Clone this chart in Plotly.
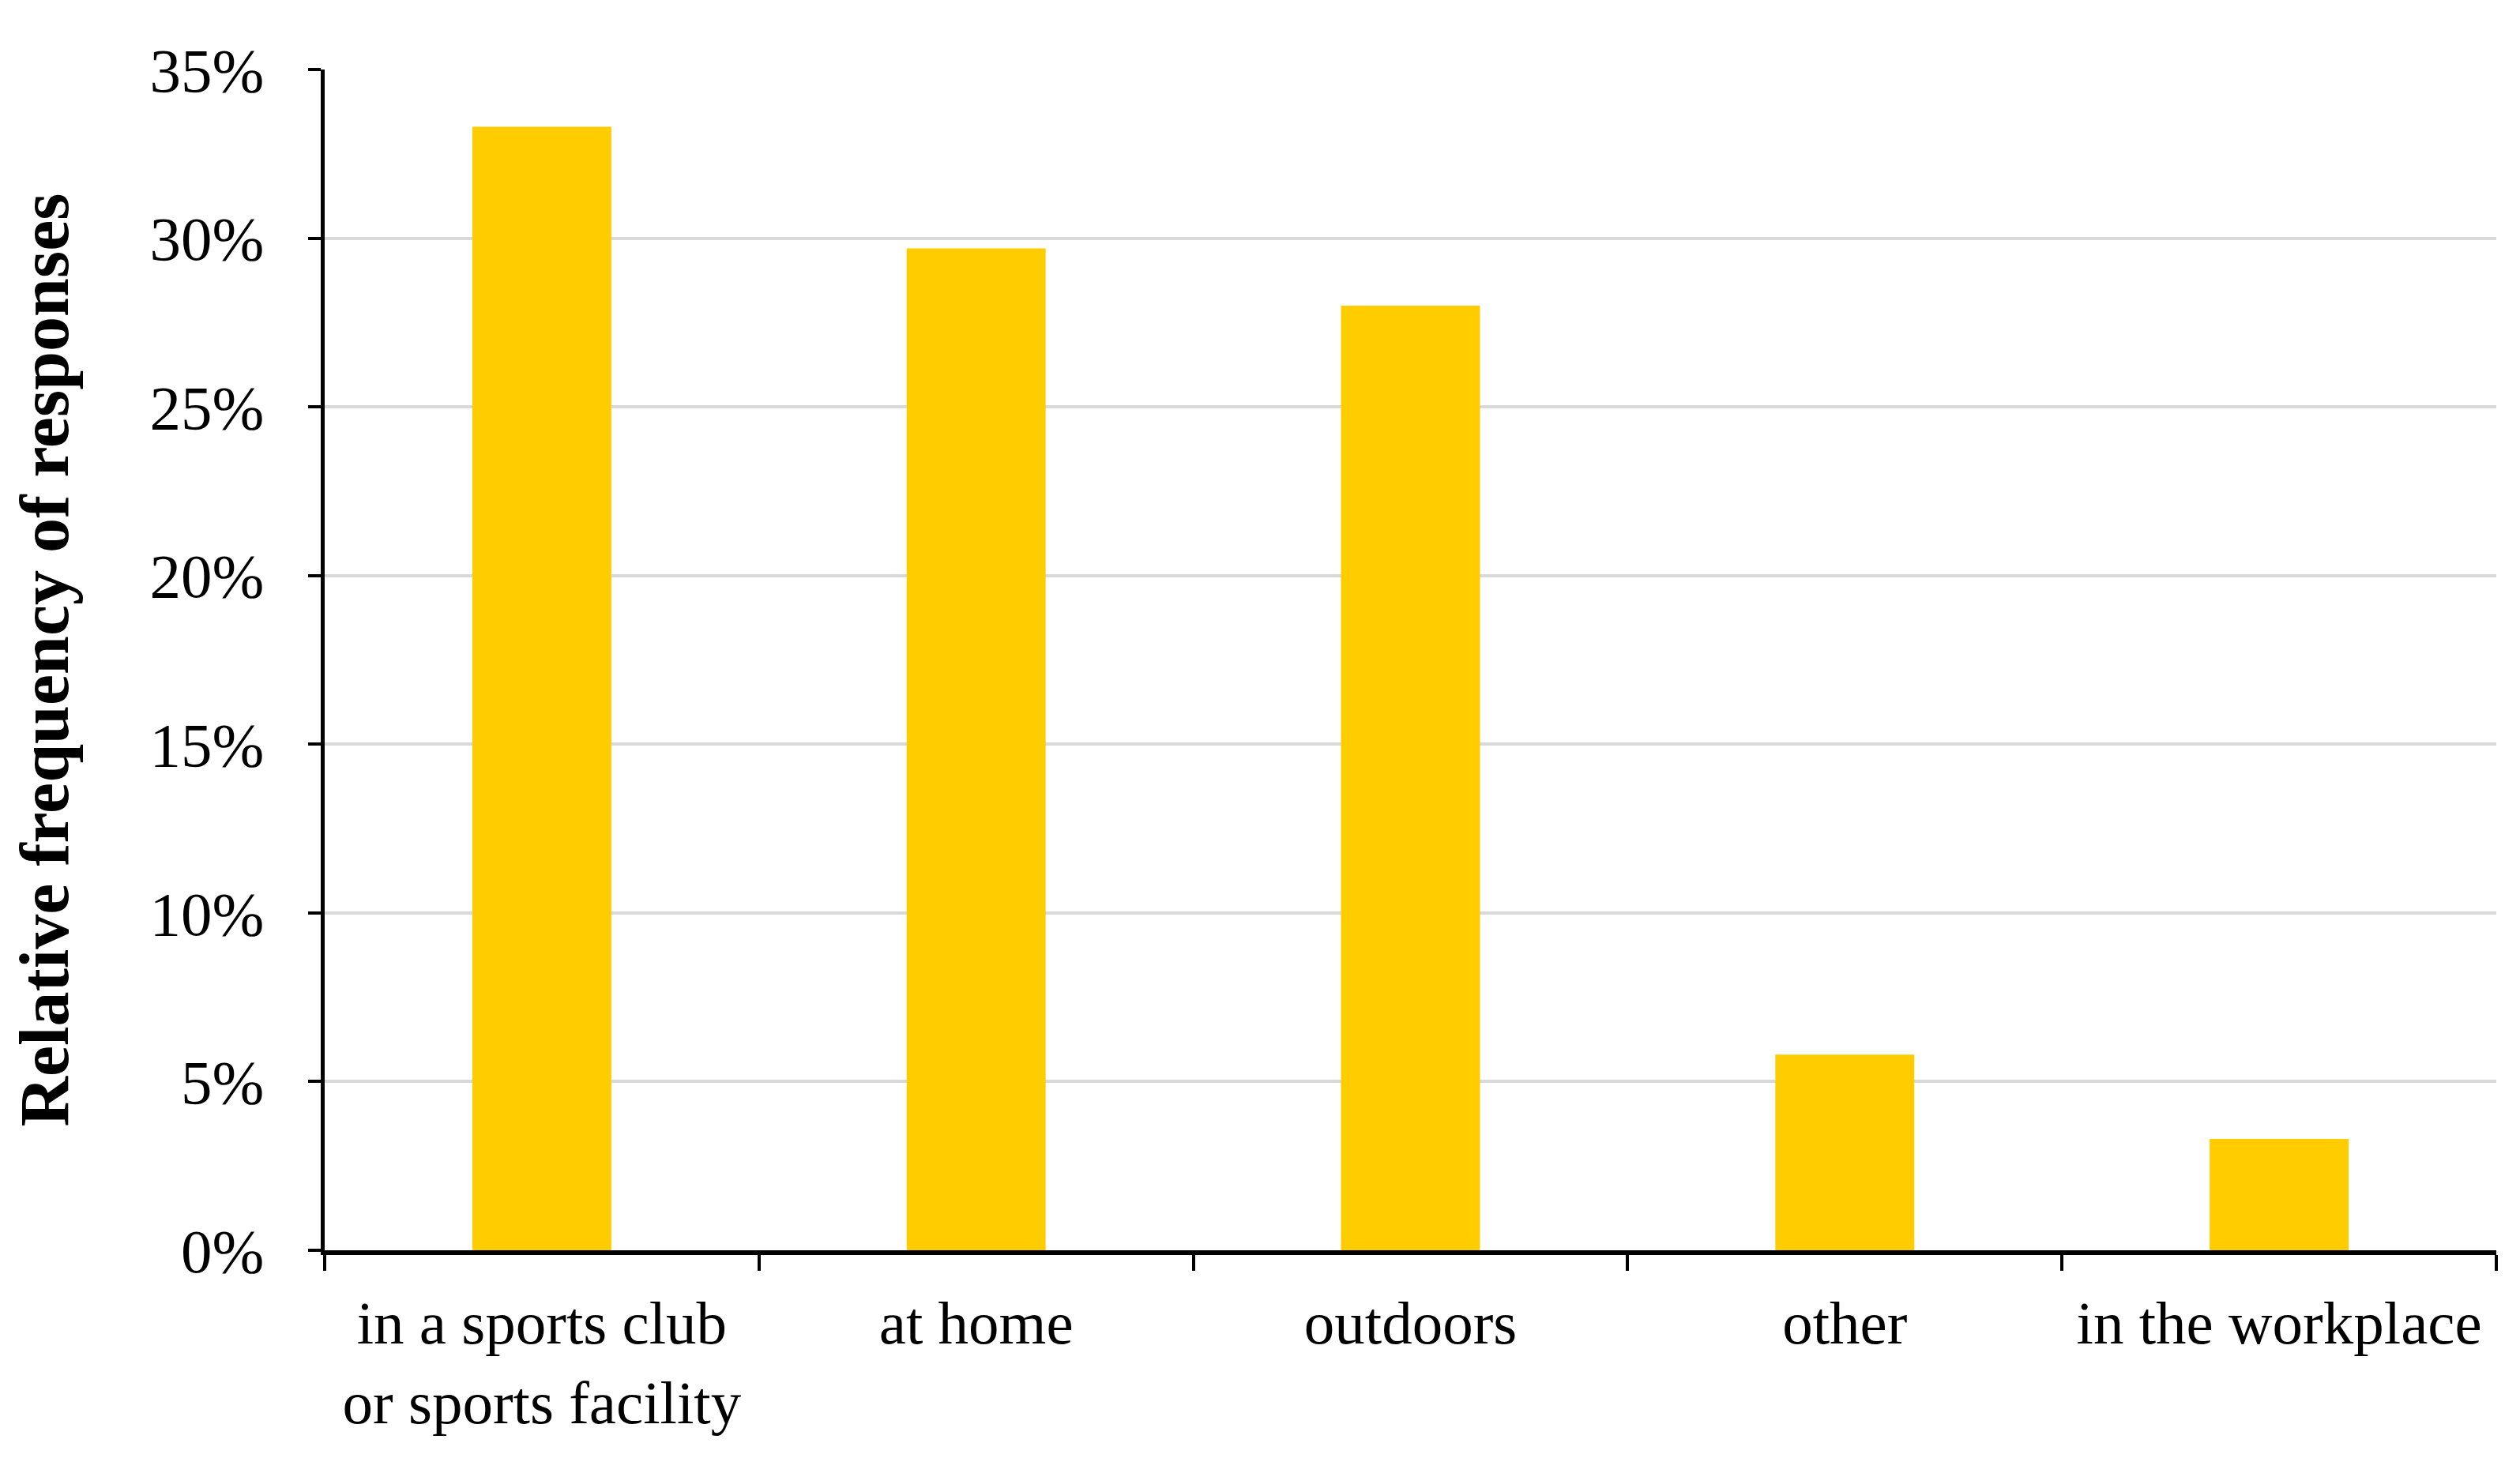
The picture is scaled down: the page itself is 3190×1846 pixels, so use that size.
import plotly.graph_objects as go

categories = ["in a sports club<br>or sports facility", "at home", "outdoors", "other", "in the workplace"]
values = [33.3, 29.7, 28.0, 5.8, 3.3]
y_ticks = [0, 5, 10, 15, 20, 25, 30, 35]
y_tick_labels = [f"{v}%" for v in y_ticks]

FONT = "Liberation Serif, Times New Roman, serif"

fig = go.Figure(
    go.Bar(
        x=categories,
        y=values,
        marker=dict(color="#FFCC00", line=dict(width=0)),
        width=0.32,
    )
)

fig.update_layout(
    width=3190,
    height=1846,
    paper_bgcolor="white",
    plot_bgcolor="white",
    margin=dict(l=403, r=38, t=80, b=271, autoexpand=False),
    showlegend=False,
    bargap=0.68,
)

fig.update_xaxes(
    type="category",
    tickson="boundaries",
    ticks="outside",
    ticklen=20,
    tickwidth=4,
    tickcolor="black",
    showline=True,
    linecolor="black",
    linewidth=6,
    showgrid=False,
    tickfont=dict(family=FONT, size=77, color="black"),
    ticklabelstandoff=20,
    automargin=False,
    range=[-0.5, 4.5],
)

fig.update_yaxes(
    range=[0, 35],
    tickvals=y_ticks,
    ticktext=y_tick_labels,
    ticks="outside",
    ticklen=16,
    tickwidth=4,
    tickcolor="black",
    showline=True,
    linecolor="black",
    linewidth=5,
    showgrid=True,
    gridcolor="#d9d9d9",
    gridwidth=4,
    zeroline=False,
    tickfont=dict(family=FONT, size=79, color="black"),
    ticklabelstandoff=40,
    automargin=False,
    title=dict(
        text="Relative frequency of responses",
        font=dict(family=FONT, size=88, color="black", weight="bold"),
        standoff=76,
    ),
)

fig.write_html("out.html")
